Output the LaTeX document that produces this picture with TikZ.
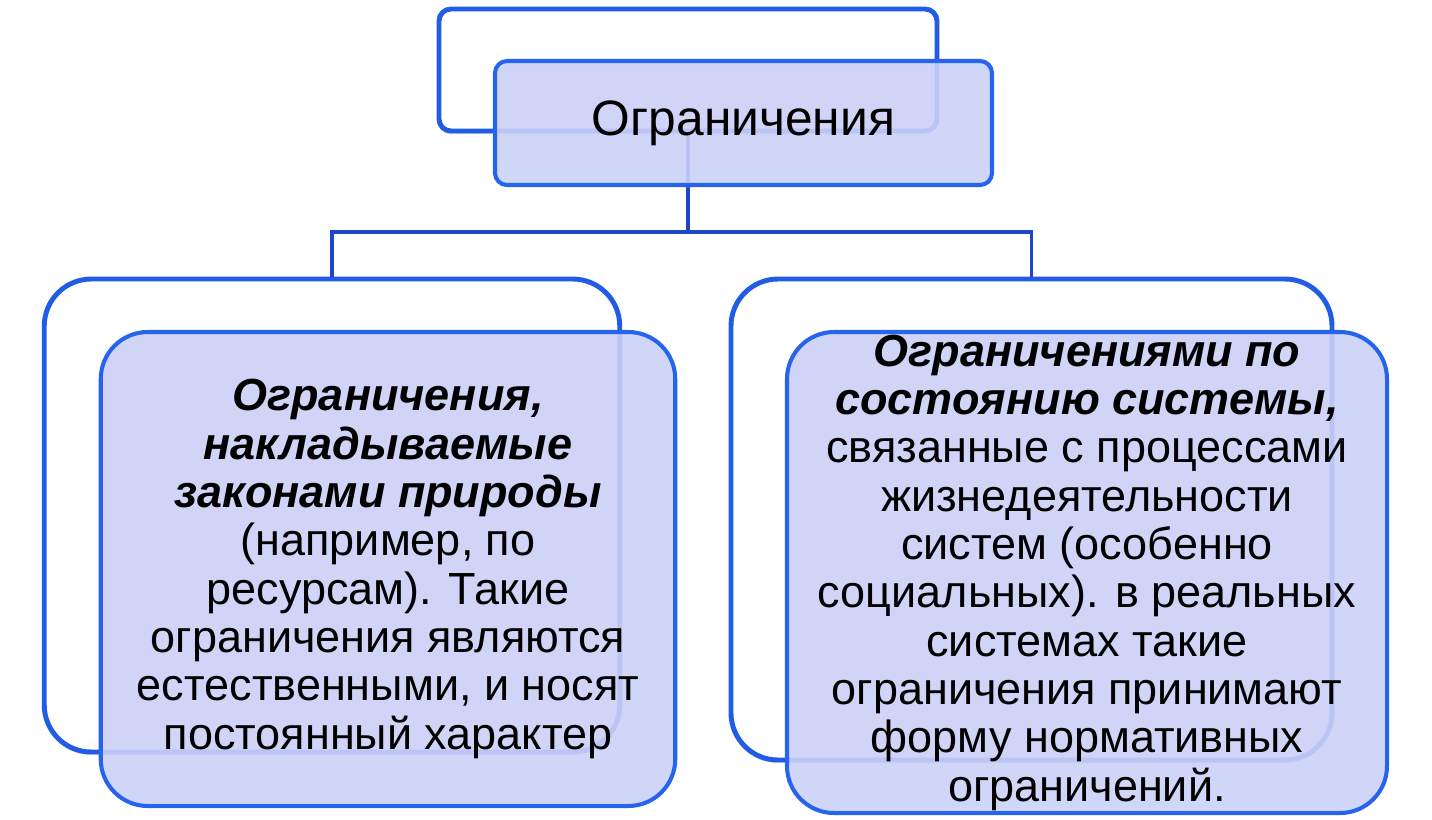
\documentclass[tikz,border=0pt]{standalone}
\usepackage{fontspec}
\setmainfont{Liberation Sans}
\usetikzlibrary{shadows}
\definecolor{backblue}{RGB}{32,92,228}
\definecolor{frontblue}{RGB}{38,100,238}
\definecolor{lineblue}{RGB}{28,72,200}
\definecolor{frontfill}{RGB}{203,209,247}
\tikzset{
  backbox/.style={draw=backblue, line width=2.8pt, fill=white, inner sep=0pt,
    drop shadow={shadow xshift=-0.02cm, shadow yshift=-0.06cm, opacity=0.25}},
  frontbox/.style={draw=frontblue, line width=2.3pt, fill=frontfill, fill opacity=0.9,
    text opacity=1, align=center, inner sep=0pt},
  conn/.style={draw=lineblue, line width=2.2pt},
  bodytext/.style={font=\fontsize{25.6}{27.5}\selectfont}
}
\begin{document}
\begin{tikzpicture}
\useasboundingbox (0,0) rectangle (28.64cm,-16.38cm);
\node (topback) at (13.76cm,-1.40cm) [backbox, rounded corners=0.24cm, minimum width=9.96cm, minimum height=2.44cm] {};
\node (leftback) at (6.64cm,-10.31cm) [backbox, rounded corners=0.94cm, minimum width=11.51cm, minimum height=9.46cm] {};
\node (rightback) at (20.63cm,-10.39cm) [backbox, rounded corners=0.94cm, minimum width=12.02cm, minimum height=9.62cm] {};
\coordinate (bus) at (13.76cm,-4.64cm);
\draw[conn] (topback.south) -- (bus) -| (leftback.north);
\draw[conn] (bus) -| (rightback.north);
\node (top) at (14.87cm,-2.46cm) [frontbox, rounded corners=0.24cm, minimum width=9.94cm, minimum height=2.48cm, font=\fontsize{28.3}{32}\selectfont] {Ограничения};
\node (left) at (7.76cm,-11.38cm) [frontbox, bodytext, rounded corners=0.94cm, minimum width=11.49cm, minimum height=9.48cm]
  {\textbf{\textit{Ограничения,}}\\ \textbf{\textit{накладываемые}}\\ \textbf{\textit{законами природы}}\\ (например, по\\ ресурсам). Такие\\ ограничения являются\\ естественными, и носят\\ постоянный характер};
\node (right) at (21.74cm,-11.45cm) [frontbox, bodytext, rounded corners=0.94cm, minimum width=12.0cm, minimum height=9.62cm]
  {\textbf{\textit{Ограничениями по}}\\ \textbf{\textit{состоянию системы,}}\\ связанные с процессами\\ жизнедеятельности\\ систем (особенно\\ социальных). в реальных\\ системах такие\\ ограничения принимают\\ форму нормативных\\ ограничений.};
\end{tikzpicture}
\end{document}
